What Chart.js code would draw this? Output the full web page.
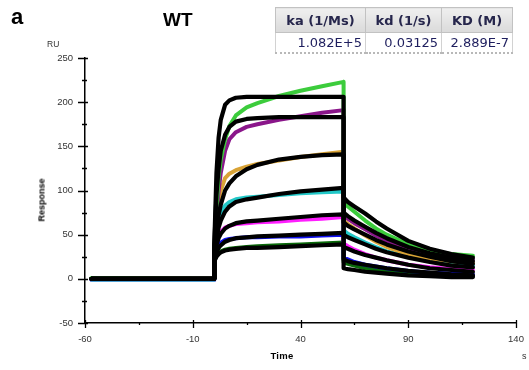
<!DOCTYPE html>
<html>
<head>
<meta charset="utf-8">
<title>WT</title>
<script src="https://cdn.jsdelivr.net/npm/chart.js@4.4.1/dist/chart.umd.min.js"></script>
<style>
  body { margin: 0; background: #fff; }
  #wrap { position: relative; width: 529px; height: 370px; font-family: "Liberation Sans", Arial, sans-serif; color: #000; }
  #sensorgram { position: absolute; left: 0; top: 0; }
  .txt { position: absolute; white-space: nowrap; line-height: 1; }
  #panel { left: 11px; top: 6px; font-size: 22px; font-weight: bold; }
  #title { left: 163px; top: 10px; font-size: 19px; font-weight: bold; }
  #unitY { left: 47px; top: 40px; font-size: 8.5px; color: #333; }
  #unitX { left: 522px; top: 352px; font-size: 9px; color: #333; }
  #titleX { left: 282px; top: 351px; font-size: 9.5px; font-weight: bold; transform: translateX(-50%); letter-spacing: 0.3px; }
  #titleY { left: 42px; top: 200px; font-size: 9px; font-weight: bold; transform: translate(-50%, -50%) rotate(-90deg); }
  #kinetics { position: absolute; left: 275px; top: 7px; width: 237px; table-layout: fixed; border-collapse: collapse;
              font-family: "DejaVu Sans", sans-serif; font-size: 13px; }
  #kinetics th { height: 24px; padding: 0 3px; font-weight: bold; color: #26264c; text-align: center;
                 background: linear-gradient(#efefef, #dadada); border: 1px solid #c2c2c2; }
  #kinetics td { height: 19px; padding: 0 3px; text-align: right; color: #1e1e5e; background: #fff;
                 border: 1px solid #d2d2d2; border-bottom: 2px dotted #b8b8b8; }
</style>
</head>
<body>
<div id="wrap">
  <canvas id="sensorgram" width="529" height="370"></canvas>
  <div class="txt" id="panel">a</div>
  <div class="txt" id="title">WT</div>
  <div class="txt" id="unitY">RU</div>
  <div class="txt" id="unitX">s</div>
  <div class="txt" id="titleX">Time</div>
  <div class="txt" id="titleY">Response</div>
  <table id="kinetics">
    <colgroup><col style="width:90px"><col style="width:76px"><col style="width:71px"></colgroup>
    <thead><tr id="kin-head"></tr></thead>
    <tbody><tr id="kin-vals"></tr></tbody>
  </table>
</div>
<script>
// fitted kinetic constants
const kineticHeaders = ["ka (1/Ms)", "kd (1/s)", "KD (M)"];
const kineticValues = ["1.082E+5", "0.03125", "2.889E-7"];

// axis ticks
const xTickValues = [-60, -10, 40, 90, 140];
const yTickValues = [-50, 0, 50, 100, 150, 200, 250];

// shared time base (s); 0 and 60 appear twice for the injection start / stop jumps
const timePoints = [-57, 0, 0, 1, 2, 3, 5, 7, 10, 15, 20, 30, 40, 50, 60,
                    60, 62, 65, 70, 75, 80, 90, 100, 110, 120];

// measured responses (RU)
const respGreen     = [1, 0, 30, 80, 115, 135, 158, 173, 185, 194, 199, 207, 213, 218, 223, 88, 82, 76, 66, 57, 50, 39, 32, 28, 26];
const respPurple    = [0, 0, 30, 70, 100, 120, 145, 158, 166, 172, 175, 180, 184, 188, 191, 72, 68, 63, 56, 49, 43, 34, 28, 24, 22];
const respOrange    = [0, 0, 30, 60, 85, 100, 114, 119, 123, 127, 130, 134, 138, 141, 144, 66, 62, 57, 49, 42, 36, 28, 23, 20, 18];
const respCyan      = [-1, -1, 28, 50, 65, 75, 83, 87, 90, 92, 93, 95, 97, 98, 99, 55, 51, 47, 41, 36, 31, 25, 20, 17, 15];
const respMagenta   = [-1, -1, 25, 40, 48, 53, 58, 60, 62, 63, 64, 65, 67, 68, 70, 40, 37, 33, 28, 24, 21, 16, 13, 11, 10];
const respBlue      = [-1, -1, 22, 32, 37, 41, 44, 45, 46, 47, 47, 48, 48, 49, 50, 24, 22, 19, 16, 14, 12, 9, 7, 6, 5];
const respDarkGreen = [0, 0, 20, 26, 29, 31, 33, 34, 35, 36, 37, 38, 39, 40, 41, 19, 17, 15, 12, 10, 9, 7, 5, 4, 3];

// 1:1 model fits (RU)
const fit1 = [0, 0, 40, 120, 160, 180, 197, 202, 205, 206, 206, 206, 206, 206, 206, 92, 87, 82, 74, 65, 57, 43, 34, 28, 24];
const fit2 = [0, 0, 38, 95, 125, 145, 163, 172, 178, 181, 182, 183, 183, 183, 183, 75, 71, 66, 59, 52, 46, 36, 29, 24, 20];
const fit3 = [0, 0, 32, 55, 72, 84, 100, 108, 116, 124, 129, 135, 138, 140, 141, 64, 60, 56, 50, 44, 39, 31, 25, 20, 17];
const fit4 = [0, 0, 28, 45, 58, 66, 76, 82, 87, 90, 92, 96, 99, 101, 103, 50, 47, 44, 39, 34, 30, 24, 19, 15, 13];
const fit5 = [0, 0, 25, 38, 46, 51, 57, 60, 63, 65, 66, 68, 70, 72, 73, 36, 34, 31, 27, 24, 21, 16, 12, 10, 8];
const fit6 = [0, 0, 22, 30, 35, 38, 42, 44, 46, 47, 48, 49, 50, 51, 52, 22, 20, 18, 16, 14, 12, 9, 7, 5, 4];
const fit7 = [0, 0, 20, 25, 28, 30, 32, 33, 34, 35, 35, 36, 37, 38, 39, 12, 11, 10, 8, 7, 6, 4, 3, 2, 2];

const measuredSeries = [
  [respGreen, "#3ccc3c"],
  [respPurple, "#8a168a"],
  [respOrange, "#d9a336"],
  [respCyan, "#22c8c8"],
  [respMagenta, "#ff1eff"],
  [respBlue, "#1010f0"],
  [respDarkGreen, "#0a6a0a"],
];
const fitSeries = [fit1, fit2, fit3, fit4, fit5, fit6, fit7];

function toPoints(values) {
  return values.map((y, i) => ({ x: timePoints[i], y }));
}

function buildTable() {
  document.getElementById("kin-head").innerHTML = kineticHeaders.map((h) => `<th>${h}</th>`).join("");
  document.getElementById("kin-vals").innerHTML = kineticValues.map((v) => `<td>${v}</td>`).join("");
}

// major + minor tick marks that straddle the axis lines
const axisTicks = {
  id: "axisTicks",
  afterDraw(chart) {
    const { ctx, chartArea, scales: { x, y } } = chart;
    ctx.save();
    ctx.strokeStyle = "#000";
    ctx.lineWidth = 1.3;
    ctx.beginPath();
    yTickValues.forEach((v, i) => {
      const py = Math.round(y.getPixelForValue(v)) + 0.5;
      ctx.moveTo(chartArea.left - 7, py);
      ctx.lineTo(chartArea.left + 3, py);
      if (i < yTickValues.length - 1) {
        const my = Math.round(y.getPixelForValue((v + yTickValues[i + 1]) / 2)) + 0.5;
        ctx.moveTo(chartArea.left - 3, my);
        ctx.lineTo(chartArea.left + 2, my);
      }
    });
    xTickValues.forEach((v, i) => {
      const px = Math.round(x.getPixelForValue(v)) + 0.5;
      ctx.moveTo(px, chartArea.bottom - 3);
      ctx.lineTo(px, chartArea.bottom + 5);
      if (i < xTickValues.length - 1) {
        const mx = Math.round(x.getPixelForValue((v + xTickValues[i + 1]) / 2)) + 0.5;
        ctx.moveTo(mx, chartArea.bottom - 1);
        ctx.lineTo(mx, chartArea.bottom + 2);
      }
    });
    ctx.stroke();
    ctx.restore();
  },
};

function renderSensorgram() {
  const datasets = [];
  measuredSeries.forEach(([values, color]) => {
    datasets.push({
      data: toPoints(values),
      borderColor: color,
      borderWidth: 4,
      order: 1,
    });
  });
  fitSeries.forEach((values) => {
    datasets.push({
      data: toPoints(values),
      borderColor: "#000",
      borderWidth: 4.2,
      order: 0,
    });
  });

  const tickFont = { family: "Liberation Sans", size: 9.5 };
  new Chart(document.getElementById("sensorgram"), {
    type: "line",
    data: { datasets },
    options: {
      responsive: false,
      animation: false,
      devicePixelRatio: 1,
      layout: { padding: { left: 0, right: 13, top: 58, bottom: 0 } },
      elements: {
        point: { radius: 0 },
        line: { tension: 0, fill: false, borderJoinStyle: "round", borderCapStyle: "round" },
      },
      plugins: { legend: { display: false }, tooltip: { enabled: false } },
      scales: {
        x: {
          type: "linear",
          min: -60,
          max: 140,
          afterBuildTicks: (s) => { s.ticks = xTickValues.map((value) => ({ value })); },
          afterFit: (s) => {
            s.height = 47;
            // let the end labels hang past the plot edges instead of shrinking it
            s.paddingLeft = 0;
            s.paddingRight = 0;
          },
          ticks: { color: "#333", font: tickFont, padding: 11, maxRotation: 0, autoSkip: false },
          grid: { display: true, drawOnChartArea: false, drawTicks: false },
          border: { display: true, color: "#000", width: 1.5 },
        },
        y: {
          type: "linear",
          min: -50,
          max: 250,
          afterBuildTicks: (s) => { s.ticks = yTickValues.map((value) => ({ value })); },
          afterFit: (s) => {
            s.width = 85;
            s.paddingTop = 0;
            s.paddingBottom = 0;
          },
          ticks: { color: "#333", font: tickFont, padding: 12, autoSkip: false },
          grid: { display: true, drawOnChartArea: false, drawTicks: false },
          border: { display: true, color: "#000", width: 1.5 },
        },
      },
    },
    plugins: [axisTicks],
  });
}

buildTable();
renderSensorgram();
</script>
</body>
</html>
